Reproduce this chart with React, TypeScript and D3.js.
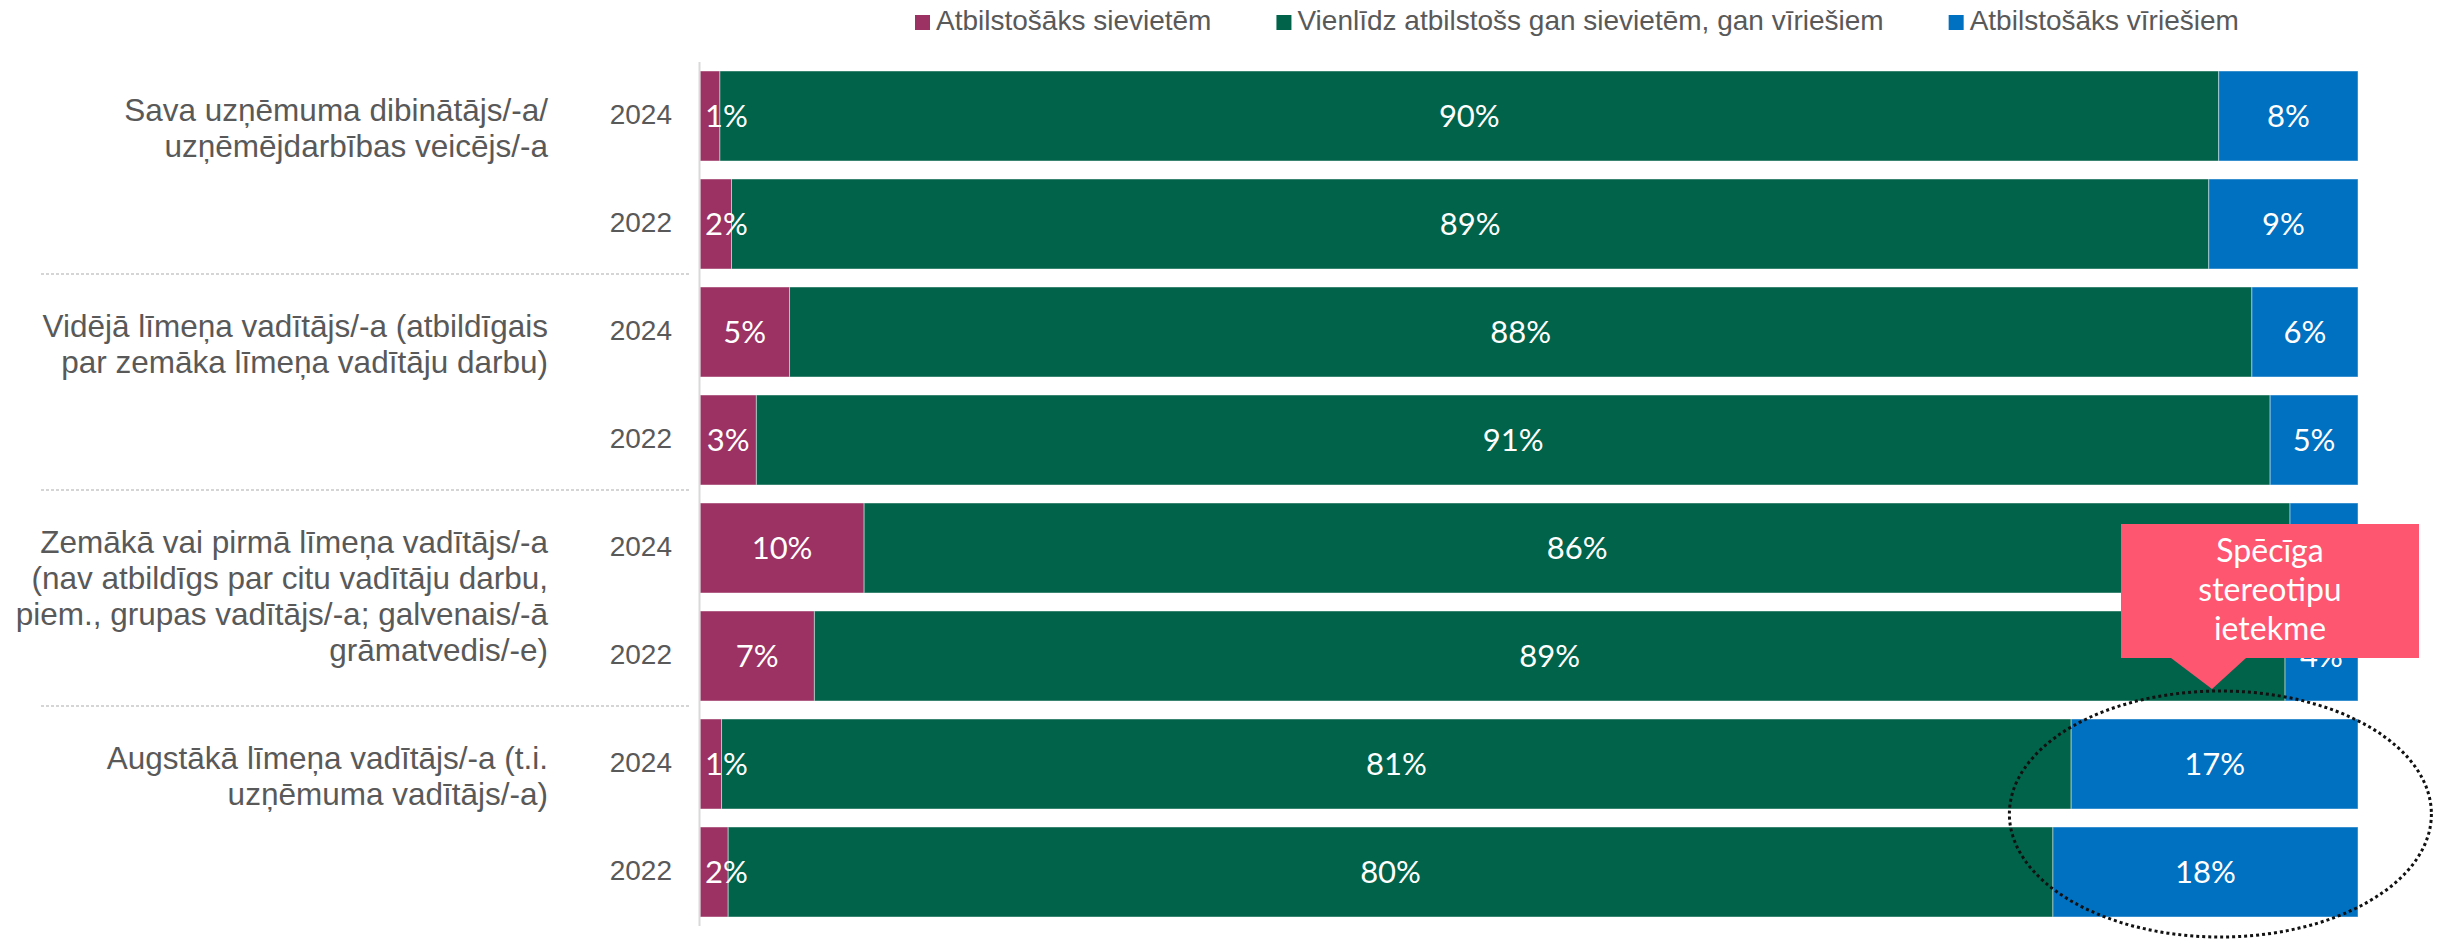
import { useEffect, useRef } from 'react'
import * as d3 from 'd3'

// Category labels (split into lines as in the original) and years
const groupLabels: string[][] = [
  ['Sava uzņēmuma dibinātājs/-a/', 'uzņēmējdarbības veicējs/-a'],
  ['Vidējā līmeņa vadītājs/-a (atbildīgais', 'par zemāka līmeņa vadītāju darbu)'],
  ['Zemākā vai pirmā līmeņa vadītājs/-a', '(nav atbildīgs par citu vadītāju darbu,', 'piem., grupas vadītājs/-a; galvenais/-ā', 'grāmatvedis/-e)'],
  ['Augstākā līmeņa vadītājs/-a (t.i.', 'uzņēmuma vadītājs/-a)'],
]
const years = ['2024', '2022']

// Series values, one per row (group x year), in %
const women = [1.2, 1.9, 5.4, 3.4, 9.9, 6.9, 1.3, 1.7]
const equal = [90.4, 89.1, 88.2, 91.3, 86.0, 88.7, 81.4, 79.9]
const men = [8.4, 9.0, 6.4, 5.3, 4.1, 4.4, 17.3, 18.4]

const seriesNames = ['Atbilstošāks sievietēm', 'Vienlīdz atbilstošs gan sievietēm, gan vīriešiem', 'Atbilstošāks vīriešiem']
const seriesColors = ['#9B3263', '#00634A', '#0070C0']

const calloutLines = ['Spēcīga', 'stereotipu', 'ietekme']

const W = 2440
const H = 940
const GREY = '#595959'
const SANS = '"Liberation Sans", Arial, sans-serif'
const LABEL_FONT = 'Lato, "Open Sans", sans-serif'

export default function App() {
  const svgRef = useRef<SVGSVGElement>(null)

  useEffect(() => {
    if (!svgRef.current) return
    const svg = d3.select(svgRef.current)
    svg.selectAll('*').remove()

    const rows = d3.range(women.length).map(i => ({
      i,
      values: [women[i], equal[i], men[i]],
    }))

    const x = d3.scaleLinear().domain([0, 100]).range([700, 2358])
    const y = d3.scaleBand<number>()
      .domain(rows.map(r => r.i))
      .range([62, 926])
      .paddingInner(1 / 6)
      .paddingOuter(1 / 12)
    const bw = y.bandwidth()
    const half = (y.step() - bw) / 2

    // Stacked bars
    const stacked = rows.flatMap(r => {
      let acc = 0
      return r.values.map((v, k) => {
        const seg = { row: r.i, k, x0: acc, x1: acc + v, v }
        acc += v
        return seg
      })
    })

    const g = svg.append('g')

    g.selectAll('rect.seg')
      .data(stacked)
      .join('rect')
      .attr('class', 'seg')
      .attr('x', d => x(d.x0))
      .attr('width', d => x(d.x1) - x(d.x0))
      .attr('y', d => y(d.row)!)
      .attr('height', bw)
      .attr('fill', d => seriesColors[d.k])
      .attr('stroke', 'rgba(255,255,255,0.45)')
      .attr('stroke-width', 1)

    // Value labels: centred; very narrow segments get the label just inside their left edge
    g.selectAll('text.val')
      .data(stacked)
      .join('text')
      .attr('class', 'val')
      .attr('x', d => (x(d.x1) - x(d.x0) < 45 ? x(d.x0) + 5 : x((d.x0 + d.x1) / 2)))
      .attr('y', d => y(d.row)! + bw / 2)
      .attr('dy', '0.36em')
      .attr('text-anchor', d => (x(d.x1) - x(d.x0) < 45 ? 'start' : 'middle'))
      .attr('fill', '#fff')
      .attr('font-family', LABEL_FONT)
      .attr('font-size', 31)
      .text(d => `${Math.round(d.v)}%`)

    // Vertical axis line
    svg.append('line')
      .attr('x1', 699.5).attr('x2', 699.5)
      .attr('y1', 62).attr('y2', 926)
      .attr('stroke', '#d9d9d9')
      .attr('stroke-width', 2)

    // Year labels
    svg.append('g')
      .selectAll('text')
      .data(rows)
      .join('text')
      .attr('x', 672)
      .attr('y', d => y(d.i)! + bw / 2)
      .attr('dy', '0.3em')
      .attr('text-anchor', 'end')
      .attr('fill', GREY)
      .attr('font-family', SANS)
      .attr('font-size', 28)
      .text(d => years[d.i % 2])

    // Group labels + dashed separators
    groupLabels.forEach((lines, gi) => {
      const top = y(gi * 2)! - half
      const t = svg.append('text')
        .attr('text-anchor', 'end')
        .attr('fill', GREY)
        .attr('font-family', SANS)
        .attr('font-size', 31.5)
      lines.forEach((line, li) => {
        t.append('tspan')
          .attr('x', 548)
          .attr('y', top + 59 + li * 36)
          .text(line)
      })
      if (gi > 0) {
        svg.append('line')
          .attr('x1', 41).attr('x2', 690)
          .attr('y1', top - 4).attr('y2', top - 4)
          .attr('stroke', '#c8c8c8')
          .attr('stroke-width', 1.5)
          .attr('stroke-dasharray', '3,2')
      }
    })

    // Legend
    const legend = svg.append('g')
    let lx = 915
    seriesNames.forEach((name, k) => {
      legend.append('rect')
        .attr('x', lx).attr('y', 15)
        .attr('width', 15).attr('height', 15)
        .attr('fill', seriesColors[k])
      const t = legend.append('text')
        .attr('x', lx + 21)
        .attr('y', 30)
        .attr('fill', GREY)
        .attr('font-family', SANS)
        .attr('font-size', 28)
        .text(name)
      const len = (t.node() as SVGTextElement).getComputedTextLength()
      lx += 21 + len + 65
    })

    // Dotted ellipse around the last group's men segments
    const lastTop = y(6)! - half
    svg.append('ellipse')
      .attr('cx', x(91.7))
      .attr('cy', lastTop + y.step() - 4)
      .attr('rx', 211)
      .attr('ry', 123)
      .attr('fill', 'none')
      .attr('stroke', '#111')
      .attr('stroke-width', 3)
      .attr('stroke-dasharray', '3,3')

    // Callout box with pointer
    const cx0 = 2121, cx1 = 2419, cy0 = 524, cy1 = 658
    const tipX = 2212, tipY = 689
    const path = d3.path()
    path.moveTo(cx0, cy0)
    path.lineTo(cx1, cy0)
    path.lineTo(cx1, cy1)
    path.lineTo(2246, cy1)
    path.lineTo(tipX, tipY)
    path.lineTo(2171, cy1)
    path.lineTo(cx0, cy1)
    path.closePath()
    svg.append('path')
      .attr('d', path.toString())
      .attr('fill', '#FE5670')

    const ct = svg.append('text')
      .attr('text-anchor', 'middle')
      .attr('fill', '#fff')
      .attr('font-family', LABEL_FONT)
      .attr('font-size', 32)
    calloutLines.forEach((line, li) => {
      ct.append('tspan')
        .attr('x', (cx0 + cx1) / 2)
        .attr('y', 562 + li * 39)
        .text(line)
    })
  }, [])

  return (
    <svg
      ref={svgRef}
      width={W}
      height={H}
      style={{ position: 'absolute', left: 0, top: 0, background: '#fff' }}
    />
  )
}
